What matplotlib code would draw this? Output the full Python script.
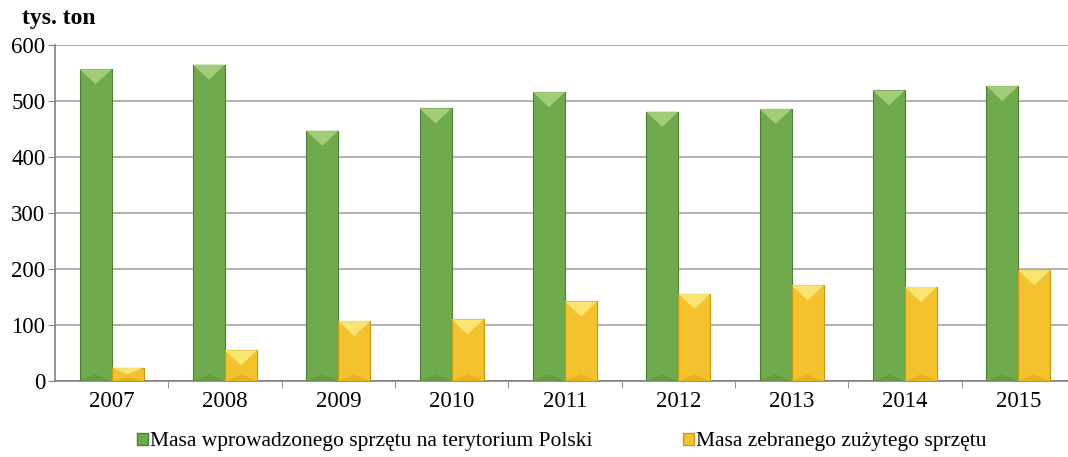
#!/usr/bin/env python3
"""Masa sprzętu wprowadzonego vs zebranego, 2007-2015."""
import matplotlib; matplotlib.use("Agg")
import matplotlib.pyplot as plt
import numpy as np
from matplotlib.patches import Polygon, Patch

years = ["2007", "2008", "2009", "2010", "2011", "2012", "2013", "2014", "2015"]
wprowadzone = [557, 565, 447, 487, 516, 481, 486, 519, 527]
zebrane = [24, 55, 107, 110, 142, 156, 171, 168, 198]
series_names = ["Masa wprowadzonego sprzętu na terytorium Polski",
                "Masa zebranego zużytego sprzętu"]

GREEN, GREEN_HI, GREEN_LO, GREEN_EDGE = "#6FAA4C", "#A9D27E", "#639A43", "#4E7E33"
YELLOW, YELLOW_HI, YELLOW_LO, YELLOW_EDGE = "#F3C22C", "#FBE97A", "#E5B020", "#C99A14"
GRID = "#A6A6A6"

plt.rcParams["font.family"] = ["Liberation Serif", "DejaVu Serif"]

fig = plt.figure(figsize=(10.68, 4.57), dpi=100)
ax = fig.add_axes([0.0515, 0.1663, 0.955, 0.7352])

x = np.arange(len(years))
w = 0.283


def bevel(bars, hi, lo):
    # lighter chevron on top, darker one at the base (Excel bevel look)
    for b in bars:
        x0, bw, h = b.get_x(), b.get_width(), b.get_height()
        d = min(27.0, h * 0.5)
        ax.add_patch(Polygon([(x0, h), (x0 + bw, h), (x0 + bw / 2, h - d)],
                             closed=True, fc=hi, ec="none", alpha=0.9, zorder=4))
        d2 = min(12.0, h * 0.3)
        ax.add_patch(Polygon([(x0, 0), (x0 + bw, 0), (x0 + bw / 2, d2)],
                             closed=True, fc=lo, ec="none", alpha=0.9, zorder=4))


b1 = ax.bar(x - w / 2, wprowadzone, w, color=GREEN, edgecolor=GREEN_EDGE, lw=0.8, zorder=3)
b2 = ax.bar(x + w / 2, zebrane, w, color=YELLOW, edgecolor=YELLOW_EDGE, lw=0.8, zorder=3)
bevel(b1, GREEN_HI, GREEN_LO)
bevel(b2, YELLOW_HI, YELLOW_LO)

ax.set_xlim(-0.5, len(years) - 0.5)
ax.set_ylim(0, 600)
ax.set_yticks(range(0, 601, 100))
ax.yaxis.grid(True, color=GRID, lw=1.2)
ax.set_axisbelow(True)

ax.set_xticks(x)
ax.set_xticklabels(years)
ax.set_xticks(np.arange(0.5, len(years) - 0.5), minor=True)
ax.tick_params(axis="x", which="major", length=0, labelsize=16.5, pad=7)
ax.tick_params(axis="x", which="minor", length=5, color="#808080")
ax.tick_params(axis="y", length=5, color="#808080", labelsize=16.5, pad=2)

for sp in ["top", "right"]:
    ax.spines[sp].set_visible(False)
for sp in ["left", "bottom"]:
    ax.spines[sp].set_color("#808080")
    ax.spines[sp].set_linewidth(1.2)

fig.text(0.021, 0.96, "tys. ton", fontsize=17, fontweight="bold", va="center")

handles = [Patch(fc=GREEN, ec=GREEN_EDGE), Patch(fc=YELLOW, ec=YELLOW_EDGE)]
fig.legend(handles, series_names, loc="center", bbox_to_anchor=(0.526, 0.033), ncol=2,
           frameon=False, fontsize=15.5, handlelength=0.5, handleheight=0.5,
           handletextpad=0.1, columnspacing=4.2)

fig.savefig("out.png", dpi=100)
